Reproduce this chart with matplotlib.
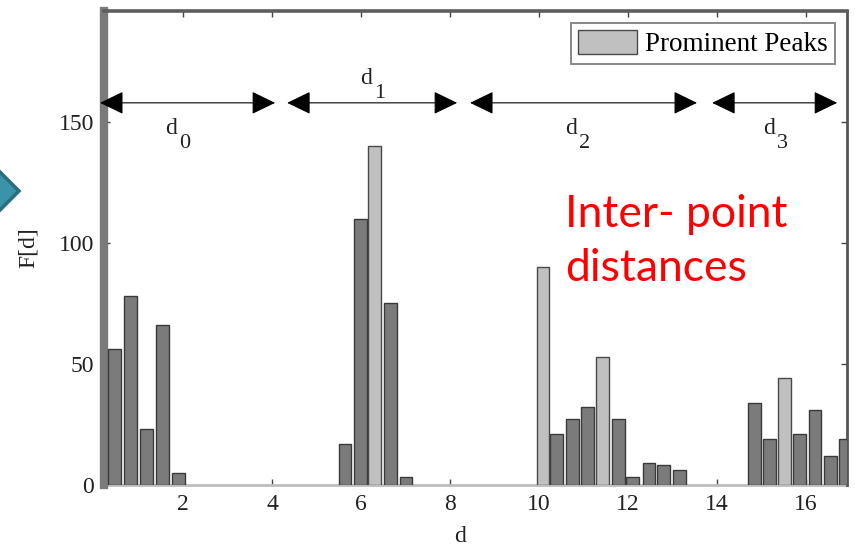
import matplotlib
matplotlib.use("Agg")
import matplotlib.pyplot as plt
from matplotlib.patches import Polygon

# ---------------- data ----------------
normal_d = [0.46, 0.82, 1.19, 1.54, 1.90,
            5.64, 5.98, 6.67, 7.01,
            10.40, 10.76, 11.08, 11.78, 12.11, 12.47, 12.79, 13.15,
            14.84, 15.17, 15.85, 16.20, 16.54, 16.88]
normal_F = [56, 78, 23, 66, 5,
            17, 110, 75, 3,
            21, 27, 32, 27, 3, 9, 8, 6,
            34, 19, 21, 31, 12, 19]
peak_d = [6.31, 10.09, 11.43, 15.52]
peak_F = [140, 90, 53, 44]

xticks = [2, 4, 6, 8, 10, 12, 14, 16]
yticks = [0, 50, 100, 150]

seg_labels = ["0", "1", "2", "3"]
seg_start = [0.135, 4.34, 8.45, 13.89]
seg_end = [4.07, 8.16, 13.55, 16.70]
seg_label_x = [1.865, 6.247, 10.854, 15.303]
seg_label_y = [145.3, 166.0, 145.3, 145.3]
arrow_y = 158

legend_label = "Prominent Peaks"
annotation = "Inter- point\ndistances"

# ---------------- style ----------------
plt.rcParams["font.family"] = ["Liberation Serif", "DejaVu Serif"]

W, H = 855, 546
fig = plt.figure(figsize=(W / 100, H / 100), dpi=100)
left_px, right_px, top_px, bot_px = 104, 847, 11, 484.7
ax = fig.add_axes([left_px / W, 1 - bot_px / H,
                   (right_px - left_px) / W, (bot_px - top_px) / H])

bar_w = 0.29
ax.bar(normal_d, normal_F, width=bar_w, color="#7b7b7b",
       edgecolor="#3a3a3a", linewidth=1.0, zorder=3)
ax.bar(peak_d, peak_F, width=bar_w, color="#c0c0c0",
       edgecolor="#4a4a4a", linewidth=1.0, zorder=3, label=legend_label)

ax.set_xlim(0.225, 16.92)
ax.set_ylim(0, 196)
ax.set_xticks(xticks)
ax.set_yticks(yticks)
ax.tick_params(direction="in", length=4, width=1, color="#444444",
               top=True, right=True, labelsize=17, pad=7,
               labelcolor="#222222")

for side, lw, col in [("left", 6, "#7a7a7a"), ("top", 2.6, "#5e5e5e"),
                      ("right", 2.0, "#555555"), ("bottom", 2.0, "#bdbdbd")]:
    ax.spines[side].set_linewidth(lw)
    ax.spines[side].set_color(col)
ax.spines["bottom"].set_zorder(2)

ax.set_xlabel("d", fontsize=17, color="#222222")
ax.set_ylabel("F[d]", fontsize=17, color="#222222")
ax.xaxis.set_label_coords(0.479, -0.088)
ax.yaxis.set_label_coords(-0.088, 0.5)

# segment arrows and labels (d with a lowered subscript index)
for s, e, lab, lx, ly in zip(seg_start, seg_end, seg_labels,
                             seg_label_x, seg_label_y):
    ax.annotate("", xy=(e, arrow_y), xytext=(s, arrow_y),
                arrowprops=dict(arrowstyle="<|-|>,head_length=0.62,head_width=0.3",
                                mutation_scale=24, color="black", lw=0.8,
                                shrinkA=0, shrinkB=0),
                zorder=5, annotation_clip=False)
    ax.text(lx, ly, "d", ha="right", va="baseline",
            fontsize=17, color="#222222")
    ax.annotate(lab, xy=(lx, ly), xytext=(1.2, -10.5),
                textcoords="offset points", ha="left", va="baseline",
                fontsize=16, color="#222222")

leg = ax.legend(loc="upper right", fontsize=19.5, fancybox=False,
                framealpha=1, edgecolor="#888888", borderaxespad=0.45,
                handlelength=2.2, handleheight=1.0, handletextpad=0.3,
                borderpad=0.25)
leg.get_frame().set_linewidth(1.4)

# red annotation text (slide overlay)
fig.text(565 / W, 1 - 194 / H, annotation, ha="left", va="top",
         fontsize=32, color="#ff0000", family=["Lato", "DejaVu Sans"],
         linespacing=1.4)

# slide bullet diamond partially visible at the left edge
cy, r = 191, 21
diamond = Polygon([[(19) / W, 1 - cy / H], [(19 - r) / W, 1 - (cy - r) / H],
                   [(19 - 2 * r) / W, 1 - cy / H], [(19 - r) / W, 1 - (cy + r) / H]],
                  closed=True, transform=fig.transFigure, facecolor="#3a93a6",
                  edgecolor="#2a6f80", linewidth=2.5)
fig.patches.append(diamond)

fig.savefig("out.png", dpi=100)
